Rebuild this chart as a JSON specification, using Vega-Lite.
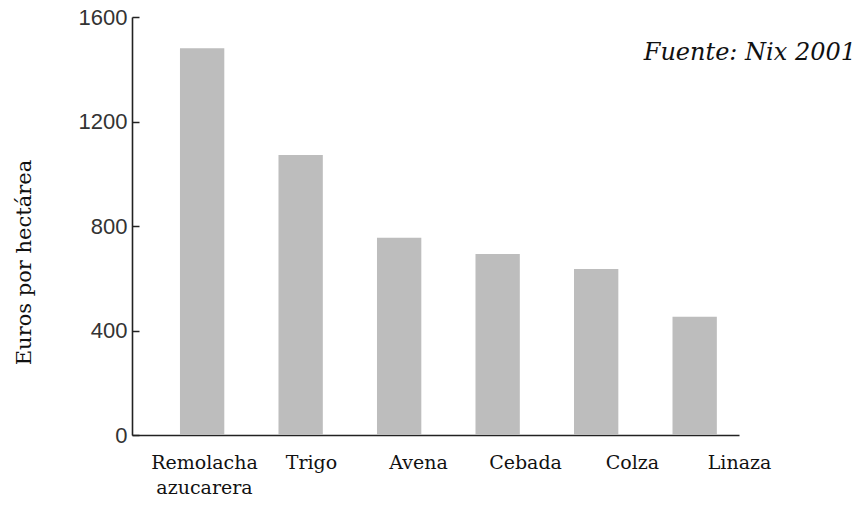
{
  "$schema": "https://vega.github.io/schema/vega-lite/v6.json",
  "width": 607,
  "height": 418,
  "autosize": {"type": "none"},
  "padding": {"left": 132, "top": 17, "right": 120, "bottom": 84},
  "background": "white",
  "config": {"view": {"stroke": null}},
  "title": {
    "text": "Fuente: Nix 2001",
    "anchor": "end",
    "frame": "group",
    "orient": "top",
    "offset": 0,
    "dx": 117,
    "dy": 59,
    "font": "DejaVu Serif",
    "fontStyle": "italic",
    "fontWeight": "normal",
    "fontSize": 24,
    "color": "#111"
  },
  "data": {
    "values": [
      {"cultivo": "Remolacha azucarera", "euros": 1480},
      {"cultivo": "Trigo", "euros": 1072},
      {"cultivo": "Avena", "euros": 755},
      {"cultivo": "Cebada", "euros": 693},
      {"cultivo": "Colza", "euros": 635},
      {"cultivo": "Linaza", "euros": 453}
    ]
  },
  "layer": [
    {
      "mark": {"type": "bar", "color": "#bdbdbd"},
      "encoding": {
        "x": {
          "field": "cultivo",
          "type": "nominal",
          "sort": null,
          "scale": {"paddingInner": 0.55, "paddingOuter": 0.356, "align": 0.684},
          "axis": {
            "orient": "bottom",
            "title": null,
            "labels": false,
            "ticks": false,
            "domain": true,
            "domainColor": "#222",
            "domainWidth": 1.6
          }
        },
        "y": {
          "field": "euros",
          "type": "quantitative",
          "scale": {"domain": [0, 1600], "nice": false},
          "axis": {
            "values": [0, 400, 800, 1200, 1600],
            "format": "d",
            "grid": false,
            "title": "Euros por hectárea",
            "titleFont": "DejaVu Serif",
            "titleFontSize": 21,
            "titleFontWeight": "normal",
            "titleColor": "#111",
            "titleAngle": -90,
            "titleX": -108,
            "titleY": 245,
            "titleAlign": "center",
            "titleBaseline": "middle",
            "labelFont": "Liberation Sans",
            "labelFontSize": 22,
            "labelColor": "#333",
            "labelPadding": 12,
            "tickSize": -7,
            "tickColor": "#222",
            "tickWidth": 1.5,
            "domainColor": "#222",
            "domainWidth": 1.6
          }
        }
      }
    },
    {
      "mark": {"type": "point", "opacity": 0},
      "encoding": {
        "x": {
          "field": "cultivo",
          "type": "nominal",
          "sort": null,
          "scale": {"type": "point", "range": [72, 607], "padding": 0},
          "axis": {
            "orient": "bottom",
            "title": null,
            "domain": false,
            "ticks": false,
            "labelAngle": 0,
            "labelFont": "DejaVu Serif",
            "labelFontSize": 19,
            "labelColor": "#111",
            "labelPadding": 18,
            "labelBaseline": "top",
            "labelLineHeight": 25,
            "labelExpr": "datum.value == 'Remolacha azucarera' ? ['Remolacha', 'azucarera'] : datum.label"
          }
        },
        "y": {"field": "euros", "type": "quantitative"}
      }
    }
  ],
  "resolve": {"scale": {"x": "independent"}}
}
